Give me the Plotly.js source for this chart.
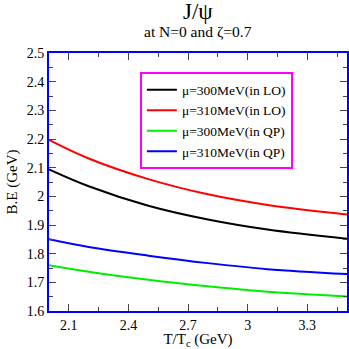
<!DOCTYPE html>
<html>
<head>
<meta charset="utf-8">
<script src="https://cdn.plot.ly/plotly-3.0.1.min.js"></script>
<style>
  html, body { margin: 0; padding: 0; background: #fff; }
  #chart { width: 349px; height: 349px; }
</style>
</head>
<body>
<div id="chart"></div>
<script>
// T/Tc values
const temps = [2.0, 2.2, 2.5, 2.8, 3.1, 3.5];

// binding energy (GeV) for each curve
const lo300 = [2.094, 2.035, 1.967, 1.919, 1.884, 1.852];
const lo310 = [2.197, 2.132, 2.060, 2.007, 1.970, 1.937];
const qp300 = [1.760, 1.737, 1.709, 1.686, 1.667, 1.651];
const qp310 = [1.850, 1.823, 1.793, 1.767, 1.746, 1.729];

const names = ['μ=300MeV(in LO)', 'μ=310MeV(in LO)', 'μ=300MeV(in QP)', 'μ=310MeV(in QP)'];
const series = [lo300, lo310, qp300, qp310];
const colors = ['#000000', '#ff0000', '#00ee00', '#0000ff'];

const serif = 'Liberation Serif, Times New Roman, serif';

const traces = series.map((ys, i) => ({
  x: temps,
  y: ys,
  type: 'scatter',
  mode: 'lines',
  name: names[i],
  line: { color: colors[i], width: 2, shape: 'spline' }
}));

const axisCommon = {
  showgrid: false,
  zeroline: false,
  showline: true,
  linecolor: '#0000ff',
  linewidth: 2,
  mirror: 'allticks',
  ticks: 'inside',
  ticklen: 7,
  tickcolor: '#444',
  tickwidth: 1,
  tickfont: { family: serif, size: 14, color: '#000' }
};

const layout = {
  width: 349,
  height: 349,
  margin: { l: 49, r: 2, t: 53, b: 38 },
  paper_bgcolor: '#fff',
  plot_bgcolor: '#fff',
  showlegend: true,
  legend: {
    x: 0.305, y: 0.925, xanchor: 'left', yanchor: 'top',
    bordercolor: '#ff00ff', borderwidth: 2, bgcolor: '#fff',
    font: { family: serif, size: 13.5, color: '#000' },
    tracegroupgap: 0
  },
  xaxis: Object.assign({}, axisCommon, {
    range: [2.0, 3.5],
    tick0: 2.1, dtick: 0.3,
    minor: { tick0: 2.1, dtick: 0.15, ticks: 'inside', ticklen: 4, tickcolor: '#444' },
    title: { text: 'T/T<sub>c</sub> (GeV)', font: { family: serif, size: 15, color: '#000' }, standoff: 1 }
  }),
  yaxis: Object.assign({}, axisCommon, {
    range: [1.6, 2.5],
    tick0: 1.6, dtick: 0.1,
    minor: { tick0: 1.6, dtick: 0.05, ticks: 'inside', ticklen: 4, tickcolor: '#444' },
    title: { text: 'B.E (GeV)', font: { family: serif, size: 15, color: '#000' }, standoff: 5 }
  }),
  annotations: [
    { text: 'J/ψ', xref: 'paper', yref: 'paper', x: 0.5, y: 1, yshift: 42,
      xanchor: 'center', yanchor: 'middle', showarrow: false,
      font: { family: serif, size: 23, color: '#000' } },
    { text: 'at N=0 and ζ=0.7', xref: 'paper', yref: 'paper', x: 0.5, y: 1, yshift: 22,
      xanchor: 'center', yanchor: 'middle', showarrow: false,
      font: { family: serif, size: 15.5, color: '#000' } }
  ]
};

Plotly.newPlot('chart', traces, layout, { staticPlot: true, displayModeBar: false });
</script>
</body>
</html>
